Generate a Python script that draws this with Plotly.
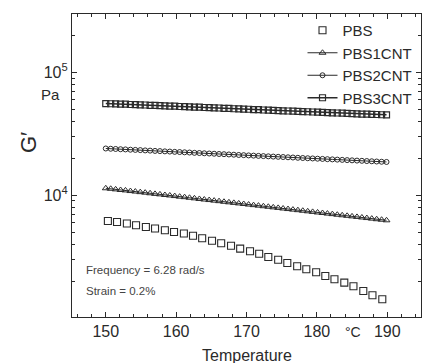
import plotly.graph_objects as go

# PBS (neat) data
t_pbs = [150.3, 151.6, 153.0, 154.3, 155.7, 157.0, 158.4, 159.7, 161.1, 162.4,
         163.7, 165.1, 166.4, 167.8, 169.1, 170.5, 171.8, 173.1, 174.5, 175.8,
         177.2, 178.5, 179.9, 181.2, 182.5, 183.9, 185.2, 186.6, 187.9, 189.3]
g_pbs = [6174, 6060, 5881, 5695, 5515, 5353, 5185, 5022, 4874, 4676,
         4462, 4257, 4062, 3876, 3677, 3496, 3336, 3141, 2981, 2806,
         2638, 2494, 2358, 2199, 2067, 1943, 1813, 1660, 1531, 1421]

# CNT composites temperatures
t_cnt = [150.0, 150.7, 151.4, 152.1, 152.8, 153.5, 154.2, 154.9, 155.6, 156.3,
         157.0, 157.7, 158.4, 159.1, 159.8, 160.5, 161.2, 161.9, 162.6, 163.3,
         164.0, 164.7, 165.4, 166.1, 166.8, 167.5, 168.2, 168.9, 169.6, 170.3,
         171.0, 171.7, 172.4, 173.1, 173.8, 174.5, 175.2, 175.9, 176.6, 177.3,
         178.0, 178.7, 179.4, 180.1, 180.8, 181.5, 182.2, 182.9, 183.6, 184.3,
         185.0, 185.7, 186.4, 187.1, 187.8, 188.5, 189.2, 189.9]

g_pbs1 = [11400, 11290, 11170, 11040, 10950, 10820, 10720, 10600, 10500, 10380,
          10260, 10170, 10050, 9960, 9850, 9740, 9650, 9540, 9440, 9330,
          9230, 9140, 9040, 8950, 8850, 8760, 8670, 8580, 8490, 8400,
          8310, 8230, 8140, 8060, 7970, 7890, 7800, 7720, 7640, 7560,
          7480, 7400, 7320, 7240, 7170, 7090, 7020, 6940, 6870, 6800,
          6730, 6660, 6590, 6520, 6450, 6380, 6320, 6250]

g_pbs2 = [24050, 23930, 23840, 23720, 23640, 23510, 23420, 23330, 23200, 23110,
          22980, 22900, 22790, 22700, 22580, 22500, 22390, 22300, 22170, 22090,
          21980, 21890, 21800, 21690, 21610, 21500, 21410, 21300, 21220, 21120,
          21030, 20930, 20850, 20760, 20660, 20570, 20490, 20390, 20310, 20200,
          20120, 20030, 19950, 19860, 19780, 19680, 19600, 19520, 19430, 19340,
          19260, 19170, 19090, 19000, 18920, 18840, 18750, 18680]

g_pbs3 = [55900, 55700, 55500, 55300, 55200, 54900, 54800, 54500, 54400, 54100,
          54000, 53700, 53600, 53300, 53200, 52900, 52800, 52500, 52300, 52200,
          51900, 51800, 51500, 51400, 51100, 51000, 50700, 50600, 50300, 50200,
          49900, 49800, 49500, 49400, 49200, 49000, 48800, 48600, 48500, 48200,
          48100, 47900, 47700, 47600, 47300, 47200, 47000, 46800, 46700, 46400,
          46300, 46100, 45900, 45800, 45600, 45500, 45300, 45200]

x_major = [150, 160, 170, 180, 190]
x_minor = [146, 148, 152, 154, 156, 158, 162, 164, 166, 168, 172, 174, 176, 178,
           182, 184, 186, 188, 192, 194]
y_major = [1e4, 1e5]
y_major_text = ["10<sup>4</sup>", "10<sup>5</sup>"]
y_minor = [2000, 3000, 4000, 5000, 6000, 7000, 8000, 9000,
           20000, 30000, 40000, 50000, 60000, 70000, 80000, 90000,
           200000, 300000]

INK = "#2a2a2a"
FONT = "Arial, Liberation Sans, sans-serif"

fig = go.Figure()
fig.add_trace(go.Scatter(x=t_pbs, y=g_pbs, mode="markers", name="PBS",
                         marker=dict(symbol="square-open", size=7, color=INK,
                                     line=dict(width=1.1, color=INK))))
fig.add_trace(go.Scatter(x=t_cnt, y=g_pbs1, mode="lines+markers", name="PBS1CNT",
                         line=dict(color=INK, width=1),
                         marker=dict(symbol="triangle-up-open", size=6, color=INK,
                                     line=dict(width=1, color=INK))))
fig.add_trace(go.Scatter(x=t_cnt, y=g_pbs2, mode="lines+markers", name="PBS2CNT",
                         line=dict(color=INK, width=1),
                         marker=dict(symbol="circle-open", size=5, color=INK,
                                     line=dict(width=1, color=INK))))
fig.add_trace(go.Scatter(x=t_cnt, y=g_pbs3, mode="lines+markers", name="PBS3CNT",
                         line=dict(color=INK, width=1.5),
                         marker=dict(symbol="square-open", size=6, color=INK,
                                     line=dict(width=1.2, color=INK))))

fig.update_layout(
    width=423, height=363,
    margin=dict(l=72, r=2, t=14, b=46, autoexpand=False),
    paper_bgcolor="white", plot_bgcolor="white",
    font=dict(family=FONT, color=INK, size=14),
    showlegend=True,
    legend=dict(x=0.99, xanchor="right", y=1.0, yanchor="top",
                bgcolor="rgba(0,0,0,0)", font=dict(size=15, color=INK),
                tracegroupgap=0, itemwidth=30),
    xaxis=dict(range=[145.2, 194.8], tickvals=x_major, ticks="inside",
               ticklen=5, tickwidth=1, tickcolor=INK,
               showline=True, linecolor=INK, linewidth=1.2, mirror="allticks",
               showgrid=False, zeroline=False,
               tickfont=dict(size=16, color=INK),
               minor=dict(tickvals=x_minor, ticks="inside", ticklen=3,
                          tickcolor=INK, showgrid=False)),
    yaxis=dict(type="log", range=[3.008, 5.477], tickvals=y_major,
               ticktext=y_major_text, ticks="inside", ticklen=5, tickwidth=1,
               tickcolor=INK, showline=True, linecolor=INK, linewidth=1.2,
               mirror="allticks", showgrid=False, zeroline=False,
               tickfont=dict(size=16, color=INK),
               minor=dict(tickvals=y_minor, ticks="inside", ticklen=3,
                          tickcolor=INK, showgrid=False)),
)

fig.add_annotation(text="G′", xref="paper", yref="paper", x=-0.126, y=0.574,
                   xanchor="center", yanchor="middle",
                   showarrow=False, textangle=-90,
                   font=dict(size=22, color=INK))
fig.add_annotation(text="Pa", xref="paper", yref="paper", x=-0.028, y=0.733,
                   xanchor="right", yanchor="middle", showarrow=False,
                   font=dict(size=15, color=INK))
fig.add_annotation(text="Temperature", xref="paper", yref="paper", x=0.5, y=-0.094,
                   xanchor="center", yanchor="top", showarrow=False,
                   font=dict(size=16, color=INK))
fig.add_annotation(text="°C", xref="x", yref="paper", x=185.2, y=-0.015,
                   xanchor="center", yanchor="top", showarrow=False,
                   font=dict(size=14, color=INK))
fig.add_annotation(text="Frequency = 6.28 rad/s", xref="paper", yref="paper",
                   x=0.034, y=0.155, xanchor="left", yanchor="middle",
                   showarrow=False, font=dict(size=11.5, color="#444"))
fig.add_annotation(text="Strain = 0.2%", xref="paper", yref="paper",
                   x=0.034, y=0.086, xanchor="left", yanchor="middle",
                   showarrow=False, font=dict(size=11.5, color="#444"))

fig.write_html("out.html",
               config={"displayModeBar": False},
               post_script="document.body.style.margin='0px';"
                           "document.body.style.overflow='hidden';")
